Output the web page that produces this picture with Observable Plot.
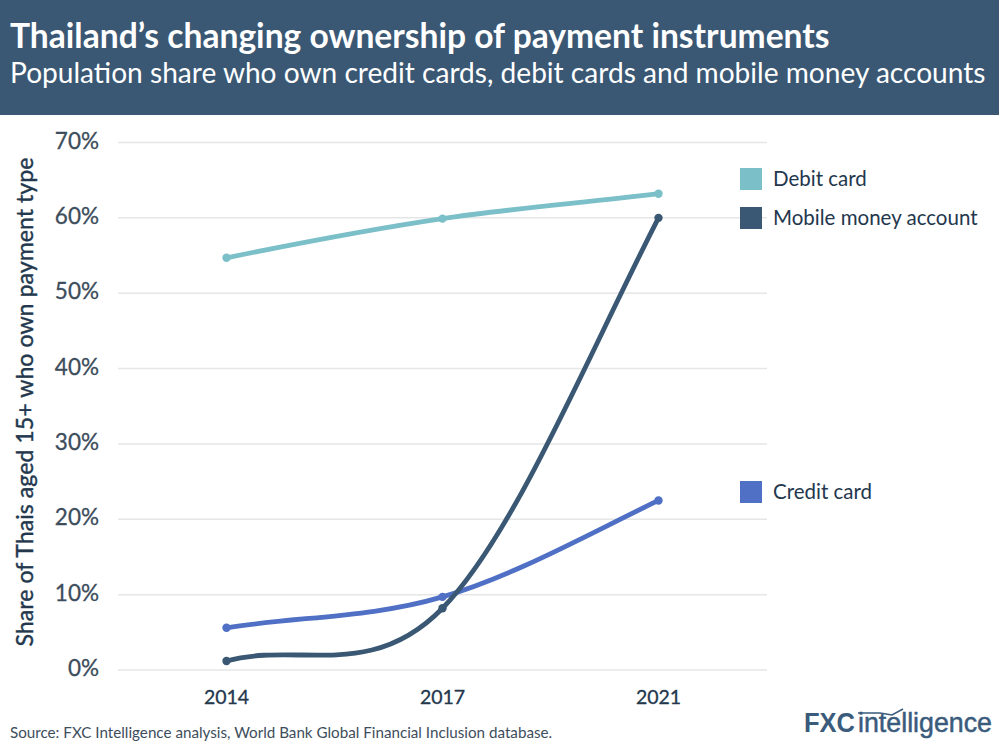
<!DOCTYPE html>
<html>
<head>
<meta charset="utf-8">
<script src="https://cdn.jsdelivr.net/npm/d3@7"></script>
<script src="https://cdn.jsdelivr.net/npm/@observablehq/plot@0.6"></script>
<style>
html,body{margin:0;padding:0;background:#fff;font-family:Lato,sans-serif;}
#page{position:relative;width:999px;height:749px;overflow:hidden;}
#header{background:#3a5874;color:#fff;height:115px;box-sizing:border-box;padding:15px 0 0 10px;}
#title{font-size:33.6px;font-weight:700;line-height:40px;white-space:nowrap;}
#subtitle{font-size:28.1px;line-height:34px;white-space:nowrap;}
#chart svg{display:block;}
#chart g[aria-label="y-axis tick label"]{stroke:#3d4d5c;stroke-width:0.3px;}
#chart g[aria-label="x-axis tick label"]{stroke:#23374d;stroke-width:0.3px;}
#legend div.item{position:absolute;left:740px;font-size:20.5px;color:#23374d;white-space:nowrap;line-height:24px;}
#legend i{display:inline-block;width:22px;height:22px;margin-right:11px;vertical-align:-4px;}
#source{position:absolute;left:10px;top:723px;font-size:15.2px;color:#3d4d5c;white-space:nowrap;}
#logo{position:absolute;left:804px;top:704px;}
</style>
</head>
<body>
<div id="page">
  <div id="header">
    <div id="title">Thailand’s changing ownership of payment instruments</div>
    <div id="subtitle">Population share who own credit cards, debit cards and mobile money accounts</div>
  </div>
  <div id="chart"></div>
  <div id="legend"></div>
  <div id="source">Source: FXC Intelligence analysis, World Bank Global Financial Inclusion database.</div>
  <svg id="logo" width="195" height="44" viewBox="0 0 195 44" font-family="Liberation Sans" fill="#3a5b7c">
    <text x="0" y="28" font-weight="700" font-size="28" textLength="51" lengthAdjust="spacingAndGlyphs">FXC</text>
    <text x="54" y="28" font-size="28" textLength="134" lengthAdjust="spacingAndGlyphs" stroke="#3a5b7c" stroke-width="0.5">intelligence</text>
    <polyline points="54,9 76,9 88,11 99,5" fill="none" stroke="#3a5b7c" stroke-width="1.5"/>
  </svg>
</div>
<script>
const years = ["2014", "2017", "2021"];
const debitCard = [54.7, 59.9, 63.2];
const mobileMoney = [1.2, 8.2, 60.0];
const creditCard = [5.6, 9.7, 22.5];
const seriesNames = ["Debit card", "Mobile money account", "Credit card"];
const seriesColors = ["#7bbfc9", "#3a5874", "#4f70c4"];
const yTicks = [0, 10, 20, 30, 40, 50, 60, 70];
const legendTops = [166, 205, 479];

const rows = (name, values) => years.map((year, i) => ({year, value: values[i], name}));
// credit card is listed before mobile money so the dark line passes over it
const data = [
  ...rows(seriesNames[0], debitCard),
  ...rows(seriesNames[2], creditCard),
  ...rows(seriesNames[1], mobileMoney)
];

// Smooth spline: interior tangents average the neighbouring chords, end tangents
// slightly overshoot the end chord, which gives the source's gentle S-shape.
function smoothCurve(context) {
  let pts = [];
  return {
    areaStart() {}, areaEnd() {},
    lineStart() { pts = []; },
    point(x, y) { pts.push([+x, +y]); },
    lineEnd() {
      const n = pts.length;
      if (!n) return;
      context.moveTo(pts[0][0], pts[0][1]);
      const s = d3.pairs(pts, (a, b) => (b[1] - a[1]) / (b[0] - a[0]));
      const m = pts.map((_, i) => i === 0 ? 1.12 * s[0] : i === n - 1 ? 1.08 * s[n - 2] : (s[i - 1] + s[i]) / 2);
      for (let i = 0; i < n - 1; i++) {
        const h = (pts[i + 1][0] - pts[i][0]) / 3;
        context.bezierCurveTo(pts[i][0] + h, pts[i][1] + h * m[i], pts[i + 1][0] - h, pts[i + 1][1] - h * m[i + 1], pts[i + 1][0], pts[i + 1][1]);
      }
    }
  };
}

const chart = Plot.plot({
  width: 999,
  height: 595,
  marginTop: 27,
  marginBottom: 40.5,
  marginLeft: 118,
  marginRight: 232,
  style: {fontFamily: "Lato, sans-serif", background: "transparent"},
  x: {type: "point", domain: years, range: [226, 658], padding: 0, label: null},
  y: {domain: [0, 70], label: null},
  color: {domain: seriesNames, range: seriesColors},
  marks: [
    Plot.ruleY(yTicks, {stroke: "#e6e6e6", strokeWidth: 1.5}),
    Plot.axisY({ticks: yTicks, tickFormat: d => d + "%", tickSize: 0, tickPadding: 19, fontSize: 22.5, fill: "#3d4d5c", dy: -1, dx: -0.5, label: null}),
    Plot.axisX({tickSize: 0, tickPadding: 20, fontSize: 19.5, fill: "#23374d", label: null}),
    Plot.line(data, {x: "year", y: "value", z: "name", stroke: "name", strokeWidth: 4.8, curve: smoothCurve}),
    Plot.dot(data, {x: "year", y: "value", fill: "name", r: 4.2})
  ]
});
document.getElementById("chart").appendChild(chart);

// y-axis title drawn as SVG text inside the figure
d3.select(chart).append("text")
  .attr("transform", "translate(24,287) rotate(-90)")
  .attr("text-anchor", "middle").attr("dominant-baseline", "central")
  .attr("font-size", 23.2).attr("fill", "#23374d").attr("stroke", "#23374d").attr("stroke-width", 0.4)
  .attr("style", "font-family:Lato,sans-serif")
  .text("Share of Thais aged 15+ who own payment type");

const legend = document.getElementById("legend");
seriesNames.forEach((name, i) => {
  const item = document.createElement("div");
  item.className = "item";
  item.style.top = legendTops[i] + "px";
  item.innerHTML = `<i style="background:${seriesColors[i]}"></i>${name}`;
  legend.appendChild(item);
});
</script>
</body>
</html>
